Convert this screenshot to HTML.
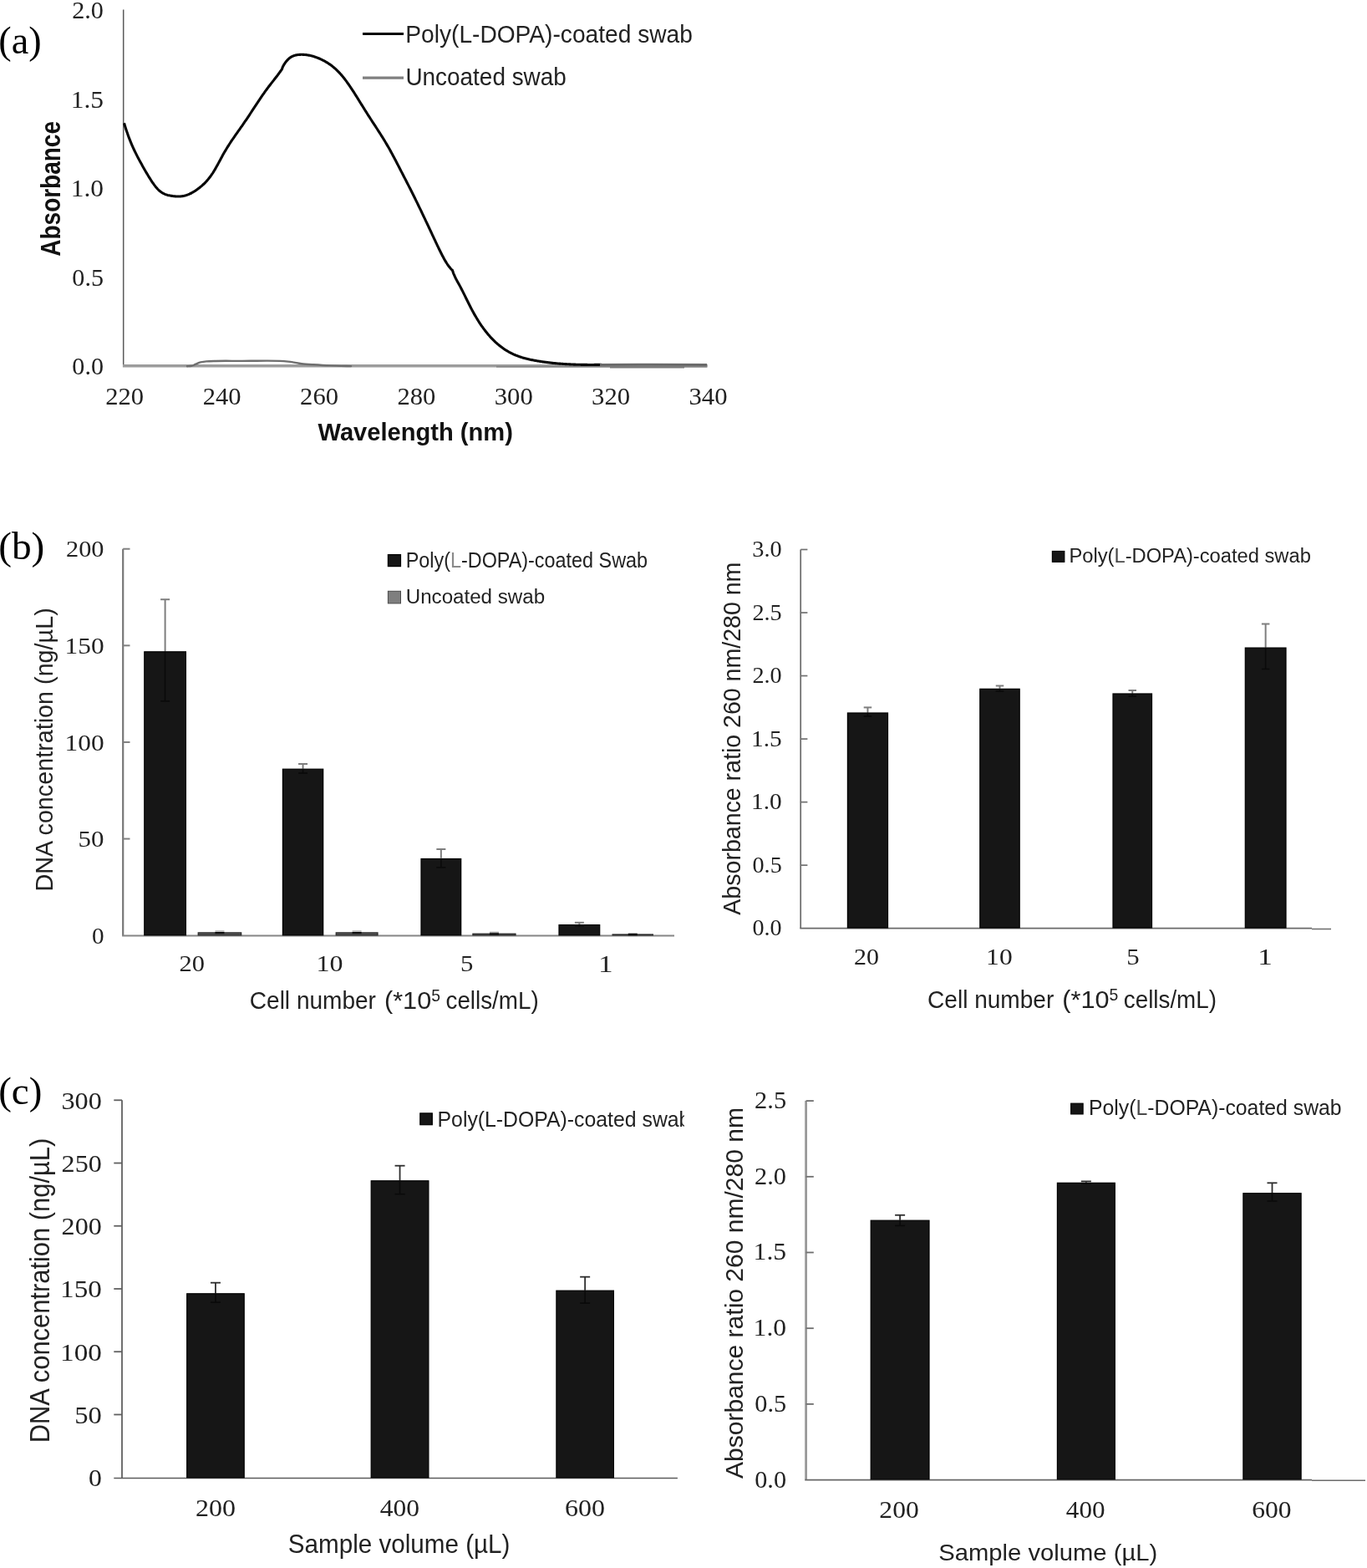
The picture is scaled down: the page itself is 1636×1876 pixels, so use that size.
<!DOCTYPE html>
<html><head><meta charset="utf-8"><title>Figure</title>
<style>html,body{margin:0;padding:0;background:#fff;overflow:hidden;}svg{display:block;}</style>
</head><body>
<svg width="1636" height="1876" viewBox="0 0 1636 1876">
<rect width="1636" height="1876" fill="#fff"/>
<text x="-1.77" y="64.21" font-size="46.06" font-family="'Liberation Serif', serif" fill="#000" textLength="51.43" lengthAdjust="spacingAndGlyphs">(a)</text>
<line x1="147.70" y1="11.50" x2="147.70" y2="436.00" stroke="#5a5a5a" stroke-width="1.5"/>
<line x1="146.90" y1="437.70" x2="846.80" y2="437.70" stroke="#9c9c9c" stroke-width="3.6"/>
<text x="86.22" y="22.05" font-size="29.85" font-family="'Liberation Serif', serif" fill="#222" textLength="37.71" lengthAdjust="spacingAndGlyphs">2.0</text>
<text x="84.75" y="128.65" font-size="30.07" font-family="'Liberation Serif', serif" fill="#222" textLength="39.31" lengthAdjust="spacingAndGlyphs">1.5</text>
<text x="84.75" y="235.25" font-size="29.85" font-family="'Liberation Serif', serif" fill="#222" textLength="39.22" lengthAdjust="spacingAndGlyphs">1.0</text>
<text x="86.37" y="341.85" font-size="29.85" font-family="'Liberation Serif', serif" fill="#222" textLength="37.63" lengthAdjust="spacingAndGlyphs">0.5</text>
<text x="86.37" y="448.45" font-size="29.85" font-family="'Liberation Serif', serif" fill="#222" textLength="37.55" lengthAdjust="spacingAndGlyphs">0.0</text>
<text x="126.30" y="484.00" font-size="30.07" font-family="'Liberation Serif', serif" fill="#222" textLength="45.85" lengthAdjust="spacingAndGlyphs">220</text>
<text x="242.70" y="484.00" font-size="30.07" font-family="'Liberation Serif', serif" fill="#222" textLength="45.85" lengthAdjust="spacingAndGlyphs">240</text>
<text x="359.10" y="484.00" font-size="30.07" font-family="'Liberation Serif', serif" fill="#222" textLength="45.85" lengthAdjust="spacingAndGlyphs">260</text>
<text x="475.50" y="484.00" font-size="30.07" font-family="'Liberation Serif', serif" fill="#222" textLength="45.85" lengthAdjust="spacingAndGlyphs">280</text>
<text x="591.74" y="484.00" font-size="30.07" font-family="'Liberation Serif', serif" fill="#222" textLength="46.01" lengthAdjust="spacingAndGlyphs">300</text>
<text x="708.14" y="484.00" font-size="30.07" font-family="'Liberation Serif', serif" fill="#222" textLength="46.01" lengthAdjust="spacingAndGlyphs">320</text>
<text x="824.54" y="484.00" font-size="30.07" font-family="'Liberation Serif', serif" fill="#222" textLength="46.01" lengthAdjust="spacingAndGlyphs">340</text>
<text x="72.00" y="306.70" font-size="33.10" font-family="'Liberation Sans', sans-serif" font-weight="bold" fill="#111" textLength="161.66" lengthAdjust="spacingAndGlyphs" transform="rotate(-90 72.00 306.70)">Absorbance</text>
<text x="380.50" y="526.80" font-size="29.82" font-family="'Liberation Sans', sans-serif" font-weight="bold" fill="#111" textLength="233.39" lengthAdjust="spacingAndGlyphs">Wavelength (nm)</text>
<path d="M224.00,438.20 C224.83,438.13 227.67,438.03 229.00,437.80 C230.33,437.57 230.83,437.30 232.00,436.80 C233.17,436.30 234.67,435.37 236.00,434.80 C237.33,434.23 238.18,433.80 240.00,433.40 C241.82,433.00 243.90,432.63 246.90,432.40 C249.90,432.17 254.15,432.10 258.00,432.00 C261.85,431.90 265.50,431.82 270.00,431.80 C274.50,431.78 280.00,431.90 285.00,431.90 C290.00,431.90 294.17,431.85 300.00,431.80 C305.83,431.75 314.17,431.58 320.00,431.60 C325.83,431.62 330.83,431.73 335.00,431.90 C339.17,432.07 342.17,432.32 345.00,432.60 C347.83,432.88 349.33,433.17 352.00,433.60 C354.67,434.03 357.17,434.75 361.00,435.20 C364.83,435.65 369.33,435.93 375.00,436.30 C380.67,436.67 387.50,437.10 395.00,437.40 C402.50,437.70 415.83,437.98 420.00,438.10" fill="none" stroke="#6e6e6e" stroke-width="2.4" stroke-linecap="round"/>
<line x1="594.00" y1="438.90" x2="846.00" y2="438.90" stroke="#7a7a7a" stroke-width="1.2"/>
<line x1="730.00" y1="439.40" x2="819.00" y2="439.40" stroke="#777777" stroke-width="2.0"/>
<path d="M148.5,147.21 L149.5,150.51 L150.5,153.67 L151.5,156.71 L152.5,159.62 L153.5,162.41 L154.5,165.10 L155.5,167.68 L156.5,170.17 L157.5,172.56 L158.5,174.87 L159.5,177.11 L160.5,179.27 L161.5,181.37 L162.5,183.41 L163.5,185.40 L164.5,187.34 L165.5,189.25 L166.5,191.12 L167.5,192.97 L168.5,194.80 L169.5,196.62 L170.5,198.42 L171.5,200.20 L172.5,201.97 L173.5,203.72 L174.5,205.44 L175.5,207.15 L176.5,208.83 L177.5,210.48 L178.5,212.10 L179.5,213.69 L180.5,215.26 L181.5,216.78 L182.5,218.27 L183.5,219.70 L184.5,221.09 L185.5,222.41 L186.5,223.67 L187.5,224.86 L188.5,225.97 L189.5,227.01 L190.5,227.95 L191.5,228.81 L192.5,229.58 L193.5,230.27 L194.5,230.89 L195.5,231.45 L196.5,231.94 L197.5,232.37 L198.5,232.76 L199.5,233.09 L200.5,233.38 L201.5,233.64 L202.5,233.86 L203.5,234.06 L204.5,234.24 L205.5,234.40 L206.5,234.54 L207.5,234.67 L208.5,234.79 L209.5,234.88 L210.5,234.96 L211.5,235.01 L212.5,235.04 L213.5,235.04 L214.5,235.02 L215.5,234.97 L216.5,234.89 L217.5,234.77 L218.5,234.62 L219.5,234.44 L220.5,234.22 L221.5,233.96 L222.5,233.68 L223.5,233.35 L224.5,233.00 L225.5,232.62 L226.5,232.20 L227.5,231.75 L228.5,231.26 L229.5,230.75 L230.5,230.21 L231.5,229.63 L232.5,229.03 L233.5,228.40 L234.5,227.73 L235.5,227.04 L236.5,226.32 L237.5,225.57 L238.5,224.80 L239.5,223.99 L240.5,223.16 L241.5,222.31 L242.5,221.42 L243.5,220.49 L244.5,219.53 L245.5,218.53 L246.5,217.49 L247.5,216.40 L248.5,215.26 L249.5,214.07 L250.5,212.82 L251.5,211.52 L252.5,210.16 L253.5,208.73 L254.5,207.24 L255.5,205.67 L256.5,204.04 L257.5,202.35 L258.5,200.60 L259.5,198.80 L260.5,196.98 L261.5,195.13 L262.5,193.27 L263.5,191.40 L264.5,189.54 L265.5,187.69 L266.5,185.87 L267.5,184.08 L268.5,182.33 L269.5,180.62 L270.5,178.94 L271.5,177.30 L272.5,175.68 L273.5,174.09 L274.5,172.53 L275.5,170.99 L276.5,169.48 L277.5,167.98 L278.5,166.50 L279.5,165.04 L280.5,163.59 L281.5,162.15 L282.5,160.72 L283.5,159.30 L284.5,157.88 L285.5,156.47 L286.5,155.05 L287.5,153.64 L288.5,152.22 L289.5,150.79 L290.5,149.36 L291.5,147.92 L292.5,146.46 L293.5,144.99 L294.5,143.52 L295.5,142.03 L296.5,140.53 L297.5,139.03 L298.5,137.52 L299.5,136.00 L300.5,134.48 L301.5,132.96 L302.5,131.43 L303.5,129.91 L304.5,128.38 L305.5,126.86 L306.5,125.34 L307.5,123.83 L308.5,122.32 L309.5,120.82 L310.5,119.33 L311.5,117.84 L312.5,116.37 L313.5,114.91 L314.5,113.46 L315.5,112.03 L316.5,110.61 L317.5,109.21 L318.5,107.82 L319.5,106.46 L320.5,105.11 L321.5,103.79 L322.5,102.48 L323.5,101.19 L324.5,99.91 L325.5,98.64 L326.5,97.37 L327.5,96.10 L328.5,94.82 L329.5,93.54 L330.5,92.25 L331.5,90.94 L332.5,89.62 L333.5,88.27 L334.5,86.90 L335.5,85.50 L336.5,84.06 L337.5,82.59 L338.5,79.68 L339.5,77.92 L340.5,76.33 L341.5,74.88 L342.5,73.56 L343.5,72.38 L344.5,71.32 L345.5,70.38 L346.5,69.54 L347.5,68.81 L348.5,68.16 L349.5,67.61 L350.5,67.13 L351.5,66.73 L352.5,66.39 L353.5,66.11 L354.5,65.89 L355.5,65.71 L356.5,65.58 L357.5,65.47 L358.5,65.40 L359.5,65.35 L360.5,65.32 L361.5,65.32 L362.5,65.34 L363.5,65.38 L364.5,65.45 L365.5,65.54 L366.5,65.65 L367.5,65.78 L368.5,65.93 L369.5,66.11 L370.5,66.30 L371.5,66.52 L372.5,66.76 L373.5,67.02 L374.5,67.29 L375.5,67.59 L376.5,67.91 L377.5,68.24 L378.5,68.60 L379.5,68.97 L380.5,69.36 L381.5,69.78 L382.5,70.20 L383.5,70.65 L384.5,71.11 L385.5,71.59 L386.5,72.09 L387.5,72.61 L388.5,73.15 L389.5,73.71 L390.5,74.30 L391.5,74.90 L392.5,75.53 L393.5,76.19 L394.5,76.87 L395.5,77.57 L396.5,78.31 L397.5,79.07 L398.5,79.87 L399.5,80.69 L400.5,81.54 L401.5,82.43 L402.5,83.35 L403.5,84.30 L404.5,85.29 L405.5,86.32 L406.5,87.38 L407.5,88.48 L408.5,89.61 L409.5,90.79 L410.5,92.00 L411.5,93.25 L412.5,94.53 L413.5,95.85 L414.5,97.20 L415.5,98.57 L416.5,99.98 L417.5,101.41 L418.5,102.86 L419.5,104.34 L420.5,105.84 L421.5,107.35 L422.5,108.89 L423.5,110.44 L424.5,112.00 L425.5,113.58 L426.5,115.17 L427.5,116.76 L428.5,118.37 L429.5,119.98 L430.5,121.59 L431.5,123.21 L432.5,124.83 L433.5,126.44 L434.5,128.06 L435.5,129.67 L436.5,131.27 L437.5,132.87 L438.5,134.45 L439.5,136.03 L440.5,137.59 L441.5,139.15 L442.5,140.70 L443.5,142.24 L444.5,143.78 L445.5,145.31 L446.5,146.85 L447.5,148.38 L448.5,149.91 L449.5,151.44 L450.5,152.98 L451.5,154.52 L452.5,156.07 L453.5,157.62 L454.5,159.18 L455.5,160.76 L456.5,162.34 L457.5,163.94 L458.5,165.55 L459.5,167.17 L460.5,168.81 L461.5,170.47 L462.5,172.15 L463.5,173.85 L464.5,175.57 L465.5,177.32 L466.5,179.09 L467.5,180.88 L468.5,182.70 L469.5,184.54 L470.5,186.40 L471.5,188.28 L472.5,190.17 L473.5,192.08 L474.5,193.99 L475.5,195.92 L476.5,197.85 L477.5,199.79 L478.5,201.73 L479.5,203.68 L480.5,205.62 L481.5,207.56 L482.5,209.49 L483.5,211.43 L484.5,213.37 L485.5,215.31 L486.5,217.25 L487.5,219.20 L488.5,221.15 L489.5,223.11 L490.5,225.07 L491.5,227.04 L492.5,229.02 L493.5,231.02 L494.5,233.02 L495.5,235.03 L496.5,237.05 L497.5,239.08 L498.5,241.13 L499.5,243.17 L500.5,245.23 L501.5,247.30 L502.5,249.37 L503.5,251.45 L504.5,253.53 L505.5,255.62 L506.5,257.72 L507.5,259.82 L508.5,261.93 L509.5,264.04 L510.5,266.16 L511.5,268.28 L512.5,270.40 L513.5,272.52 L514.5,274.65 L515.5,276.78 L516.5,278.91 L517.5,281.04 L518.5,283.17 L519.5,285.30 L520.5,287.43 L521.5,289.57 L522.5,291.69 L523.5,293.81 L524.5,295.91 L525.5,297.98 L526.5,300.03 L527.5,302.05 L528.5,304.02 L529.5,305.95 L530.5,307.83 L531.5,309.65 L532.5,311.41 L533.5,313.10 L534.5,314.72 L535.5,316.26 L536.5,317.71 L537.5,319.07 L538.5,320.33 L539.5,321.49 L540.5,322.54 L541.5,323.47 L542.5,326.56 L543.5,328.97 L544.5,331.17 L545.5,333.19 L546.5,335.10 L547.5,336.93 L548.5,338.73 L549.5,340.54 L550.5,342.38 L551.5,344.27 L552.5,346.19 L553.5,348.15 L554.5,350.14 L555.5,352.15 L556.5,354.17 L557.5,356.20 L558.5,358.24 L559.5,360.27 L560.5,362.29 L561.5,364.29 L562.5,366.27 L563.5,368.22 L564.5,370.13 L565.5,372.00 L566.5,373.83 L567.5,375.62 L568.5,377.37 L569.5,379.08 L570.5,380.76 L571.5,382.39 L572.5,383.99 L573.5,385.56 L574.5,387.08 L575.5,388.57 L576.5,390.03 L577.5,391.45 L578.5,392.83 L579.5,394.18 L580.5,395.50 L581.5,396.79 L582.5,398.04 L583.5,399.26 L584.5,400.45 L585.5,401.61 L586.5,402.74 L587.5,403.83 L588.5,404.90 L589.5,405.94 L590.5,406.95 L591.5,407.93 L592.5,408.89 L593.5,409.81 L594.5,410.71 L595.5,411.59 L596.5,412.44 L597.5,413.26 L598.5,414.06 L599.5,414.83 L600.5,415.58 L601.5,416.31 L602.5,417.01 L603.5,417.69 L604.5,418.35 L605.5,418.98 L606.5,419.60 L607.5,420.20 L608.5,420.77 L609.5,421.33 L610.5,421.86 L611.5,422.38 L612.5,422.88 L613.5,423.36 L614.5,423.83 L615.5,424.27 L616.5,424.71 L617.5,425.12 L618.5,425.52 L619.5,425.91 L620.5,426.28 L621.5,426.63 L622.5,426.98 L623.5,427.31 L624.5,427.63 L625.5,427.93 L626.5,428.22 L627.5,428.51 L628.5,428.78 L629.5,429.04 L630.5,429.30 L631.5,429.54 L632.5,429.77 L633.5,430.00 L634.5,430.22 L635.5,430.43 L636.5,430.63 L637.5,430.83 L638.5,431.02 L639.5,431.21 L640.5,431.39 L641.5,431.57 L642.5,431.74 L643.5,431.91 L644.5,432.08 L645.5,432.24 L646.5,432.40 L647.5,432.55 L648.5,432.70 L649.5,432.85 L650.5,432.99 L651.5,433.13 L652.5,433.27 L653.5,433.40 L654.5,433.53 L655.5,433.66 L656.5,433.78 L657.5,433.90 L658.5,434.02 L659.5,434.13 L660.5,434.24 L661.5,434.35 L662.5,434.45 L663.5,434.55 L664.5,434.65 L665.5,434.74 L666.5,434.83 L667.5,434.92 L668.5,435.00 L669.5,435.09 L670.5,435.16 L671.5,435.24 L672.5,435.31 L673.5,435.39 L674.5,435.45 L675.5,435.52 L676.5,435.58 L677.5,435.64 L678.5,435.70 L679.5,435.76 L680.5,435.81 L681.5,435.86 L682.5,435.91 L683.5,435.95 L684.5,436.00 L685.5,436.04 L686.5,436.08 L687.5,436.11 L688.5,436.15 L689.5,436.18 L690.5,436.21 L691.5,436.24 L692.5,436.26 L693.5,436.29 L694.5,436.31 L695.5,436.33 L696.5,436.35 L697.5,436.36 L698.5,436.38 L699.5,436.39 L700.5,436.40 L701.5,436.41 L702.5,436.42 L703.5,436.43 L704.5,436.43 L705.5,436.43 L706.5,436.44 L707.5,436.44 L708.5,436.44 L709.5,436.43 L710.5,436.43 L711.5,436.42 L712.5,436.42 L713.5,436.41 L714.5,436.40 L715.5,436.39 L716.5,436.38 L717.5,436.37 L718.5,436.35 L719.5,436.34 L720.0,436.33" fill="none" stroke="#050505" stroke-width="3.1" stroke-linejoin="round"/>
<path d="M718,436.4 L780,436.2 L846,436.6" fill="none" stroke="#6a6a6a" stroke-width="3"/>
<line x1="434.00" y1="40.50" x2="483.00" y2="40.50" stroke="#000" stroke-width="3.2"/>
<text x="485.28" y="51.30" font-size="29.09" font-family="'Liberation Sans', sans-serif" fill="#222" textLength="343.57" lengthAdjust="spacingAndGlyphs">Poly(L-DOPA)-coated swab</text>
<line x1="434.00" y1="93.20" x2="483.00" y2="93.20" stroke="#7f7f7f" stroke-width="3.2"/>
<text x="485.44" y="101.60" font-size="29.53" font-family="'Liberation Sans', sans-serif" fill="#222" textLength="192.40" lengthAdjust="spacingAndGlyphs">Uncoated swab</text>
<text x="-1.81" y="668.51" font-size="46.06" font-family="'Liberation Serif', serif" fill="#000" textLength="55.17" lengthAdjust="spacingAndGlyphs">(b)</text>
<line x1="147.20" y1="656.70" x2="147.20" y2="1119.40" stroke="#777777" stroke-width="2.2"/>
<line x1="147.20" y1="656.72" x2="155.50" y2="656.72" stroke="#808080" stroke-width="2.0"/>
<line x1="147.20" y1="772.34" x2="155.50" y2="772.34" stroke="#808080" stroke-width="2.0"/>
<line x1="147.20" y1="887.96" x2="155.50" y2="887.96" stroke="#808080" stroke-width="2.0"/>
<line x1="147.20" y1="1003.58" x2="155.50" y2="1003.58" stroke="#808080" stroke-width="2.0"/>
<line x1="146.10" y1="1119.50" x2="807.00" y2="1119.50" stroke="#858585" stroke-width="2.0"/>
<text x="79.01" y="666.44" font-size="27.85" font-family="'Liberation Serif', serif" fill="#222" textLength="45.53" lengthAdjust="spacingAndGlyphs">200</text>
<text x="77.56" y="782.06" font-size="27.85" font-family="'Liberation Serif', serif" fill="#222" textLength="47.02" lengthAdjust="spacingAndGlyphs">150</text>
<text x="77.56" y="897.68" font-size="27.85" font-family="'Liberation Serif', serif" fill="#222" textLength="47.02" lengthAdjust="spacingAndGlyphs">100</text>
<text x="93.62" y="1013.30" font-size="27.85" font-family="'Liberation Serif', serif" fill="#222" textLength="30.94" lengthAdjust="spacingAndGlyphs">50</text>
<text x="109.91" y="1128.92" font-size="27.85" font-family="'Liberation Serif', serif" fill="#222" textLength="14.59" lengthAdjust="spacingAndGlyphs">0</text>
<rect x="172.80" y="779.80" width="49.60" height="339.00" fill="#161616" stroke="#000000" stroke-width="1.2"/>
<line x1="197.60" y1="717.20" x2="197.60" y2="779.20" stroke="#7e7e7e" stroke-width="2.0"/>
<line x1="192.10" y1="717.20" x2="203.10" y2="717.20" stroke="#7e7e7e" stroke-width="2.0"/>
<line x1="197.60" y1="779.20" x2="197.60" y2="838.80" stroke="#0a0a0a" stroke-width="1.6"/>
<line x1="192.10" y1="838.80" x2="203.10" y2="838.80" stroke="#0a0a0a" stroke-width="1.6"/>
<rect x="338.40" y="920.20" width="48.30" height="198.60" fill="#161616" stroke="#000000" stroke-width="1.2"/>
<line x1="362.55" y1="914.00" x2="362.55" y2="919.60" stroke="#7e7e7e" stroke-width="2.0"/>
<line x1="357.05" y1="914.00" x2="368.05" y2="914.00" stroke="#7e7e7e" stroke-width="2.0"/>
<line x1="362.55" y1="919.60" x2="362.55" y2="925.00" stroke="#0a0a0a" stroke-width="1.6"/>
<line x1="357.05" y1="925.00" x2="368.05" y2="925.00" stroke="#0a0a0a" stroke-width="1.6"/>
<rect x="504.00" y="1027.50" width="47.70" height="91.30" fill="#161616" stroke="#000000" stroke-width="1.2"/>
<line x1="527.85" y1="1016.00" x2="527.85" y2="1026.90" stroke="#7e7e7e" stroke-width="2.0"/>
<line x1="522.35" y1="1016.00" x2="533.35" y2="1016.00" stroke="#7e7e7e" stroke-width="2.0"/>
<line x1="527.85" y1="1026.90" x2="527.85" y2="1037.80" stroke="#0a0a0a" stroke-width="1.6"/>
<line x1="522.35" y1="1037.80" x2="533.35" y2="1037.80" stroke="#0a0a0a" stroke-width="1.6"/>
<rect x="669.00" y="1106.60" width="48.70" height="12.20" fill="#161616" stroke="#000000" stroke-width="1.2"/>
<line x1="693.35" y1="1103.80" x2="693.35" y2="1106.00" stroke="#7e7e7e" stroke-width="2.0"/>
<line x1="687.85" y1="1103.80" x2="698.85" y2="1103.80" stroke="#7e7e7e" stroke-width="2.0"/>
<line x1="693.35" y1="1106.00" x2="693.35" y2="1108.00" stroke="#0a0a0a" stroke-width="1.6"/>
<line x1="687.85" y1="1108.00" x2="698.85" y2="1108.00" stroke="#0a0a0a" stroke-width="1.6"/>
<rect x="237.20" y="1115.90" width="51.50" height="2.90" fill="#555555" stroke="#2a2a2a" stroke-width="1.2"/>
<line x1="257.45" y1="1114.00" x2="268.45" y2="1114.00" stroke="#9a9a9a" stroke-width="1.2"/>
<rect x="257.45" y="1115.00" width="11.00" height="2.20" fill="#0c0c0c"/>
<rect x="402.20" y="1115.90" width="49.80" height="2.90" fill="#555555" stroke="#2a2a2a" stroke-width="1.2"/>
<line x1="421.60" y1="1114.00" x2="432.60" y2="1114.00" stroke="#9a9a9a" stroke-width="1.2"/>
<rect x="421.60" y="1115.00" width="11.00" height="2.20" fill="#0c0c0c"/>
<rect x="565.90" y="1117.20" width="51.10" height="1.60" fill="#555555" stroke="#2a2a2a" stroke-width="1.2"/>
<line x1="585.95" y1="1115.30" x2="596.95" y2="1115.30" stroke="#9a9a9a" stroke-width="1.2"/>
<rect x="585.95" y="1116.30" width="11.00" height="2.20" fill="#0c0c0c"/>
<rect x="733.10" y="1118.00" width="48.30" height="0.80" fill="#555555" stroke="#2a2a2a" stroke-width="1.2"/>
<line x1="751.75" y1="1116.80" x2="762.75" y2="1116.80" stroke="#9a9a9a" stroke-width="1.2"/>
<rect x="751.75" y="1117.10" width="11.00" height="2.20" fill="#0c0c0c"/>
<text x="214.51" y="1162.32" font-size="27.85" font-family="'Liberation Serif', serif" fill="#222" textLength="30.43" lengthAdjust="spacingAndGlyphs">20</text>
<text x="378.50" y="1162.32" font-size="27.85" font-family="'Liberation Serif', serif" fill="#222" textLength="32.00" lengthAdjust="spacingAndGlyphs">10</text>
<text x="551.03" y="1162.32" font-size="28.27" font-family="'Liberation Serif', serif" fill="#222" textLength="15.40" lengthAdjust="spacingAndGlyphs">5</text>
<text x="716.02" y="1162.60" font-size="28.48" font-family="'Liberation Serif', serif" fill="#222" textLength="17.59" lengthAdjust="spacingAndGlyphs">1</text>
<text x="62.60" y="1066.57" font-size="29.38" font-family="'Liberation Sans', sans-serif" fill="#222" textLength="339.28" lengthAdjust="spacingAndGlyphs" transform="rotate(-90 62.60 1066.57)">DNA concentration (ng/µL)</text>
<text x="298.80" y="1207.30" font-size="29.10" font-family="'Liberation Sans', sans-serif" fill="#222" textLength="151.16" lengthAdjust="spacingAndGlyphs">Cell number</text>
<text x="459.98" y="1207.30" font-size="29.53" font-family="'Liberation Sans', sans-serif" fill="#222" textLength="56.23" lengthAdjust="spacingAndGlyphs">(*10</text>
<text x="516.13" y="1198.11" font-size="19.35" font-family="'Liberation Sans', sans-serif" fill="#222" textLength="10.77" lengthAdjust="spacingAndGlyphs">5</text>
<text x="533.52" y="1207.30" font-size="29.82" font-family="'Liberation Sans', sans-serif" fill="#222" textLength="111.16" lengthAdjust="spacingAndGlyphs">cells/mL)</text>
<rect x="464.40" y="663.60" width="15.10" height="14.00" fill="#161616" stroke="#000000" stroke-width="1.2"/>
<text x="485.67" y="678.50" font-size="24.87" font-family="'Liberation Sans', sans-serif" fill="#222" textLength="289.37" lengthAdjust="spacingAndGlyphs">Poly(<tspan fill="#8a8a8a">L</tspan>-DOPA)-coated Swab</text>
<rect x="464.40" y="707.30" width="15.10" height="14.60" fill="#7f7f7f" stroke="#4a4a4a" stroke-width="1"/>
<text x="485.73" y="722.00" font-size="24.29" font-family="'Liberation Sans', sans-serif" fill="#222" textLength="166.35" lengthAdjust="spacingAndGlyphs">Uncoated swab</text>
<line x1="958.20" y1="657.50" x2="958.20" y2="1110.70" stroke="#6a6a6a" stroke-width="1.7"/>
<line x1="958.20" y1="1035.16" x2="966.40" y2="1035.16" stroke="#707070" stroke-width="1.7"/>
<line x1="958.20" y1="959.63" x2="966.40" y2="959.63" stroke="#707070" stroke-width="1.7"/>
<line x1="958.20" y1="884.10" x2="966.40" y2="884.10" stroke="#707070" stroke-width="1.7"/>
<line x1="958.20" y1="808.56" x2="966.40" y2="808.56" stroke="#707070" stroke-width="1.7"/>
<line x1="958.20" y1="733.03" x2="966.40" y2="733.03" stroke="#707070" stroke-width="1.7"/>
<line x1="958.20" y1="657.49" x2="966.40" y2="657.49" stroke="#707070" stroke-width="1.7"/>
<line x1="957.35" y1="1110.70" x2="1570.00" y2="1110.70" stroke="#6a6a6a" stroke-width="1.7"/>
<line x1="1570.00" y1="1111.50" x2="1593.00" y2="1111.50" stroke="#6a6a6a" stroke-width="1.5"/>
<text x="900.55" y="1119.28" font-size="27.94" font-family="'Liberation Serif', serif" fill="#222" textLength="35.11" lengthAdjust="spacingAndGlyphs">0.0</text>
<text x="900.54" y="1043.75" font-size="27.94" font-family="'Liberation Serif', serif" fill="#222" textLength="35.18" lengthAdjust="spacingAndGlyphs">0.5</text>
<text x="899.03" y="968.21" font-size="27.94" font-family="'Liberation Serif', serif" fill="#222" textLength="36.67" lengthAdjust="spacingAndGlyphs">1.0</text>
<text x="899.03" y="892.67" font-size="28.15" font-family="'Liberation Serif', serif" fill="#222" textLength="36.75" lengthAdjust="spacingAndGlyphs">1.5</text>
<text x="900.40" y="817.14" font-size="27.94" font-family="'Liberation Serif', serif" fill="#222" textLength="35.26" lengthAdjust="spacingAndGlyphs">2.0</text>
<text x="900.40" y="741.60" font-size="28.04" font-family="'Liberation Serif', serif" fill="#222" textLength="35.33" lengthAdjust="spacingAndGlyphs">2.5</text>
<text x="900.25" y="666.07" font-size="27.94" font-family="'Liberation Serif', serif" fill="#222" textLength="35.41" lengthAdjust="spacingAndGlyphs">3.0</text>
<rect x="1014.40" y="853.00" width="48.10" height="257.00" fill="#161616" stroke="#000000" stroke-width="1.2"/>
<line x1="1038.45" y1="846.40" x2="1038.45" y2="852.40" stroke="#7e7e7e" stroke-width="2.0"/>
<line x1="1033.70" y1="846.40" x2="1043.20" y2="846.40" stroke="#7e7e7e" stroke-width="2.0"/>
<line x1="1038.45" y1="852.40" x2="1038.45" y2="857.00" stroke="#0a0a0a" stroke-width="1.6"/>
<line x1="1033.70" y1="857.00" x2="1043.20" y2="857.00" stroke="#0a0a0a" stroke-width="1.6"/>
<rect x="1172.80" y="824.30" width="47.40" height="285.70" fill="#161616" stroke="#000000" stroke-width="1.2"/>
<line x1="1196.50" y1="820.50" x2="1196.50" y2="823.70" stroke="#7e7e7e" stroke-width="2.0"/>
<line x1="1191.75" y1="820.50" x2="1201.25" y2="820.50" stroke="#7e7e7e" stroke-width="2.0"/>
<line x1="1196.50" y1="823.70" x2="1196.50" y2="827.00" stroke="#0a0a0a" stroke-width="1.6"/>
<line x1="1191.75" y1="827.00" x2="1201.25" y2="827.00" stroke="#0a0a0a" stroke-width="1.6"/>
<rect x="1332.00" y="830.00" width="46.50" height="280.00" fill="#161616" stroke="#000000" stroke-width="1.2"/>
<line x1="1355.25" y1="826.00" x2="1355.25" y2="829.40" stroke="#7e7e7e" stroke-width="2.0"/>
<line x1="1350.50" y1="826.00" x2="1360.00" y2="826.00" stroke="#7e7e7e" stroke-width="2.0"/>
<line x1="1355.25" y1="829.40" x2="1355.25" y2="833.00" stroke="#0a0a0a" stroke-width="1.6"/>
<line x1="1350.50" y1="833.00" x2="1360.00" y2="833.00" stroke="#0a0a0a" stroke-width="1.6"/>
<rect x="1490.30" y="775.10" width="48.70" height="334.90" fill="#161616" stroke="#000000" stroke-width="1.2"/>
<line x1="1514.65" y1="746.50" x2="1514.65" y2="774.50" stroke="#7e7e7e" stroke-width="2.0"/>
<line x1="1509.90" y1="746.50" x2="1519.40" y2="746.50" stroke="#7e7e7e" stroke-width="2.0"/>
<line x1="1514.65" y1="774.50" x2="1514.65" y2="800.50" stroke="#0a0a0a" stroke-width="1.6"/>
<line x1="1509.90" y1="800.50" x2="1519.40" y2="800.50" stroke="#0a0a0a" stroke-width="1.6"/>
<text x="1022.02" y="1153.52" font-size="27.56" font-family="'Liberation Serif', serif" fill="#222" textLength="30.00" lengthAdjust="spacingAndGlyphs">20</text>
<text x="1180.14" y="1153.52" font-size="27.56" font-family="'Liberation Serif', serif" fill="#222" textLength="31.54" lengthAdjust="spacingAndGlyphs">10</text>
<text x="1348.23" y="1153.52" font-size="27.97" font-family="'Liberation Serif', serif" fill="#222" textLength="15.40" lengthAdjust="spacingAndGlyphs">5</text>
<text x="1505.22" y="1153.80" font-size="28.18" font-family="'Liberation Serif', serif" fill="#222" textLength="17.59" lengthAdjust="spacingAndGlyphs">1</text>
<text x="885.80" y="1094.67" font-size="29.00" font-family="'Liberation Sans', sans-serif" fill="#222" textLength="422.01" lengthAdjust="spacingAndGlyphs" transform="rotate(-90 885.80 1094.67)">Absorbance ratio 260 nm/280 nm</text>
<text x="1110.10" y="1205.80" font-size="29.10" font-family="'Liberation Sans', sans-serif" fill="#222" textLength="151.16" lengthAdjust="spacingAndGlyphs">Cell number</text>
<text x="1271.28" y="1205.80" font-size="29.53" font-family="'Liberation Sans', sans-serif" fill="#222" textLength="56.23" lengthAdjust="spacingAndGlyphs">(*10</text>
<text x="1327.43" y="1196.61" font-size="19.35" font-family="'Liberation Sans', sans-serif" fill="#222" textLength="10.77" lengthAdjust="spacingAndGlyphs">5</text>
<text x="1344.82" y="1205.80" font-size="29.82" font-family="'Liberation Sans', sans-serif" fill="#222" textLength="111.16" lengthAdjust="spacingAndGlyphs">cells/mL)</text>
<rect x="1259.40" y="659.50" width="14.40" height="12.80" fill="#161616" stroke="#000000" stroke-width="1.2"/>
<text x="1279.44" y="673.40" font-size="24.58" font-family="'Liberation Sans', sans-serif" fill="#222" textLength="289.42" lengthAdjust="spacingAndGlyphs">Poly(<tspan fill="#4a4a4a">L</tspan>-DOPA)-coated swab</text>
<text x="-1.80" y="1320.71" font-size="45.62" font-family="'Liberation Serif', serif" fill="#000" textLength="52.19" lengthAdjust="spacingAndGlyphs">(c)</text>
<line x1="146.00" y1="1316.30" x2="146.00" y2="1768.50" stroke="#606060" stroke-width="1.8"/>
<line x1="136.30" y1="1692.47" x2="146.00" y2="1692.47" stroke="#606060" stroke-width="1.8"/>
<line x1="136.30" y1="1617.23" x2="146.00" y2="1617.23" stroke="#606060" stroke-width="1.8"/>
<line x1="136.30" y1="1542.00" x2="146.00" y2="1542.00" stroke="#606060" stroke-width="1.8"/>
<line x1="136.30" y1="1466.76" x2="146.00" y2="1466.76" stroke="#606060" stroke-width="1.8"/>
<line x1="136.30" y1="1391.53" x2="146.00" y2="1391.53" stroke="#606060" stroke-width="1.8"/>
<line x1="136.30" y1="1316.29" x2="146.00" y2="1316.29" stroke="#606060" stroke-width="1.8"/>
<line x1="136.30" y1="1768.50" x2="810.90" y2="1768.50" stroke="#5c5c5c" stroke-width="1.7"/>
<text x="73.47" y="1326.60" font-size="29.33" font-family="'Liberation Serif', serif" fill="#222" textLength="48.34" lengthAdjust="spacingAndGlyphs">300</text>
<text x="73.64" y="1401.83" font-size="29.33" font-family="'Liberation Serif', serif" fill="#222" textLength="48.17" lengthAdjust="spacingAndGlyphs">250</text>
<text x="73.64" y="1477.07" font-size="29.33" font-family="'Liberation Serif', serif" fill="#222" textLength="48.17" lengthAdjust="spacingAndGlyphs">200</text>
<text x="72.10" y="1552.30" font-size="29.33" font-family="'Liberation Serif', serif" fill="#222" textLength="49.75" lengthAdjust="spacingAndGlyphs">150</text>
<text x="72.10" y="1627.54" font-size="29.33" font-family="'Liberation Serif', serif" fill="#222" textLength="49.75" lengthAdjust="spacingAndGlyphs">100</text>
<text x="89.23" y="1702.77" font-size="29.33" font-family="'Liberation Serif', serif" fill="#222" textLength="32.60" lengthAdjust="spacingAndGlyphs">50</text>
<text x="105.91" y="1778.01" font-size="29.33" font-family="'Liberation Serif', serif" fill="#222" textLength="15.88" lengthAdjust="spacingAndGlyphs">0</text>
<rect x="223.70" y="1547.80" width="68.50" height="220.00" fill="#161616" stroke="#000000" stroke-width="1.2"/>
<line x1="257.95" y1="1534.70" x2="257.95" y2="1547.20" stroke="#2e2e2e" stroke-width="1.8"/>
<line x1="251.95" y1="1534.70" x2="263.95" y2="1534.70" stroke="#2e2e2e" stroke-width="1.8"/>
<line x1="257.95" y1="1547.20" x2="257.95" y2="1558.20" stroke="#0a0a0a" stroke-width="1.6"/>
<line x1="251.95" y1="1558.20" x2="263.95" y2="1558.20" stroke="#0a0a0a" stroke-width="1.6"/>
<rect x="444.20" y="1412.80" width="68.70" height="355.00" fill="#161616" stroke="#000000" stroke-width="1.2"/>
<line x1="478.55" y1="1394.70" x2="478.55" y2="1412.20" stroke="#2e2e2e" stroke-width="1.8"/>
<line x1="472.55" y1="1394.70" x2="484.55" y2="1394.70" stroke="#2e2e2e" stroke-width="1.8"/>
<line x1="478.55" y1="1412.20" x2="478.55" y2="1428.70" stroke="#0a0a0a" stroke-width="1.6"/>
<line x1="472.55" y1="1428.70" x2="484.55" y2="1428.70" stroke="#0a0a0a" stroke-width="1.6"/>
<rect x="665.90" y="1544.20" width="68.50" height="223.60" fill="#161616" stroke="#000000" stroke-width="1.2"/>
<line x1="700.15" y1="1527.70" x2="700.15" y2="1543.60" stroke="#2e2e2e" stroke-width="1.8"/>
<line x1="694.15" y1="1527.70" x2="706.15" y2="1527.70" stroke="#2e2e2e" stroke-width="1.8"/>
<line x1="700.15" y1="1543.60" x2="700.15" y2="1559.10" stroke="#0a0a0a" stroke-width="1.6"/>
<line x1="694.15" y1="1559.10" x2="706.15" y2="1559.10" stroke="#0a0a0a" stroke-width="1.6"/>
<text x="234.04" y="1813.50" font-size="29.78" font-family="'Liberation Serif', serif" fill="#222" textLength="47.96" lengthAdjust="spacingAndGlyphs">200</text>
<text x="454.87" y="1813.50" font-size="29.78" font-family="'Liberation Serif', serif" fill="#222" textLength="47.21" lengthAdjust="spacingAndGlyphs">400</text>
<text x="675.94" y="1813.50" font-size="29.78" font-family="'Liberation Serif', serif" fill="#222" textLength="47.96" lengthAdjust="spacingAndGlyphs">600</text>
<text x="59.40" y="1726.35" font-size="32.87" font-family="'Liberation Sans', sans-serif" fill="#222" textLength="364.69" lengthAdjust="spacingAndGlyphs" transform="rotate(-90 59.40 1726.35)">DNA concentration (ng/µL)</text>
<text x="344.87" y="1857.80" font-size="30.82" font-family="'Liberation Sans', sans-serif" fill="#222" textLength="265.54" lengthAdjust="spacingAndGlyphs">Sample volume (µL)</text>
<clipPath id="clipc"><rect x="490" y="1300" width="328.8" height="70"/></clipPath>
<rect x="502.80" y="1331.90" width="14.50" height="13.80" fill="#161616" stroke="#000000" stroke-width="1.2"/>
<g clip-path="url(#clipc)">
<text x="523.55" y="1347.90" font-size="26.47" font-family="'Liberation Sans', sans-serif" fill="#222" textLength="302.86" lengthAdjust="spacingAndGlyphs">Poly(L-DOPA)-coated swab</text>
</g>
<line x1="964.60" y1="1317.10" x2="964.60" y2="1770.00" stroke="#999999" stroke-width="2.8"/>
<line x1="964.60" y1="1679.90" x2="973.80" y2="1679.90" stroke="#6e6e6e" stroke-width="1.8"/>
<line x1="964.60" y1="1589.20" x2="973.80" y2="1589.20" stroke="#6e6e6e" stroke-width="1.8"/>
<line x1="964.60" y1="1498.50" x2="973.80" y2="1498.50" stroke="#6e6e6e" stroke-width="1.8"/>
<line x1="964.60" y1="1407.80" x2="973.80" y2="1407.80" stroke="#6e6e6e" stroke-width="1.8"/>
<line x1="964.60" y1="1317.10" x2="973.80" y2="1317.10" stroke="#6e6e6e" stroke-width="1.8"/>
<line x1="963.20" y1="1770.60" x2="1570.00" y2="1770.60" stroke="#666666" stroke-width="1.7"/>
<line x1="1570.00" y1="1771.30" x2="1634.00" y2="1771.30" stroke="#6a6a6a" stroke-width="1.5"/>
<text x="903.27" y="1779.56" font-size="29.12" font-family="'Liberation Serif', serif" fill="#222" textLength="37.77" lengthAdjust="spacingAndGlyphs">0.0</text>
<text x="903.26" y="1688.86" font-size="29.12" font-family="'Liberation Serif', serif" fill="#222" textLength="37.85" lengthAdjust="spacingAndGlyphs">0.5</text>
<text x="901.64" y="1598.16" font-size="29.12" font-family="'Liberation Serif', serif" fill="#222" textLength="39.44" lengthAdjust="spacingAndGlyphs">1.0</text>
<text x="901.63" y="1507.46" font-size="29.33" font-family="'Liberation Serif', serif" fill="#222" textLength="39.53" lengthAdjust="spacingAndGlyphs">1.5</text>
<text x="903.11" y="1416.76" font-size="29.12" font-family="'Liberation Serif', serif" fill="#222" textLength="37.93" lengthAdjust="spacingAndGlyphs">2.0</text>
<text x="903.11" y="1326.06" font-size="29.23" font-family="'Liberation Serif', serif" fill="#222" textLength="38.01" lengthAdjust="spacingAndGlyphs">2.5</text>
<rect x="1042.20" y="1460.20" width="69.80" height="309.60" fill="#161616" stroke="#000000" stroke-width="1.2"/>
<line x1="1077.10" y1="1453.80" x2="1077.10" y2="1459.60" stroke="#2e2e2e" stroke-width="1.8"/>
<line x1="1071.10" y1="1453.80" x2="1083.10" y2="1453.80" stroke="#2e2e2e" stroke-width="1.8"/>
<line x1="1077.10" y1="1459.60" x2="1077.10" y2="1466.40" stroke="#0a0a0a" stroke-width="1.6"/>
<line x1="1071.10" y1="1466.40" x2="1083.10" y2="1466.40" stroke="#0a0a0a" stroke-width="1.6"/>
<rect x="1265.40" y="1415.30" width="68.90" height="354.50" fill="#161616" stroke="#000000" stroke-width="1.2"/>
<line x1="1299.85" y1="1413.40" x2="1299.85" y2="1414.70" stroke="#2e2e2e" stroke-width="1.8"/>
<line x1="1293.85" y1="1413.40" x2="1305.85" y2="1413.40" stroke="#2e2e2e" stroke-width="1.8"/>
<line x1="1299.85" y1="1414.70" x2="1299.85" y2="1416.00" stroke="#0a0a0a" stroke-width="1.6"/>
<line x1="1293.85" y1="1416.00" x2="1305.85" y2="1416.00" stroke="#0a0a0a" stroke-width="1.6"/>
<rect x="1487.90" y="1427.70" width="69.20" height="342.10" fill="#161616" stroke="#000000" stroke-width="1.2"/>
<line x1="1522.50" y1="1415.30" x2="1522.50" y2="1427.10" stroke="#2e2e2e" stroke-width="1.8"/>
<line x1="1516.50" y1="1415.30" x2="1528.50" y2="1415.30" stroke="#2e2e2e" stroke-width="1.8"/>
<line x1="1522.50" y1="1427.10" x2="1522.50" y2="1437.00" stroke="#0a0a0a" stroke-width="1.6"/>
<line x1="1516.50" y1="1437.00" x2="1528.50" y2="1437.00" stroke="#0a0a0a" stroke-width="1.6"/>
<text x="1052.36" y="1815.71" font-size="29.04" font-family="'Liberation Serif', serif" fill="#222" textLength="47.32" lengthAdjust="spacingAndGlyphs">200</text>
<text x="1275.88" y="1815.71" font-size="29.04" font-family="'Liberation Serif', serif" fill="#222" textLength="46.59" lengthAdjust="spacingAndGlyphs">400</text>
<text x="1498.26" y="1815.71" font-size="29.04" font-family="'Liberation Serif', serif" fill="#222" textLength="47.32" lengthAdjust="spacingAndGlyphs">600</text>
<text x="888.70" y="1768.98" font-size="30.33" font-family="'Liberation Sans', sans-serif" fill="#222" textLength="444.01" lengthAdjust="spacingAndGlyphs" transform="rotate(-90 888.70 1768.98)">Absorbance ratio 260 nm/280 nm</text>
<text x="1123.29" y="1866.80" font-size="28.10" font-family="'Liberation Sans', sans-serif" fill="#222" textLength="261.89" lengthAdjust="spacingAndGlyphs">Sample volume (µL)</text>
<rect x="1281.70" y="1320.20" width="14.40" height="12.70" fill="#161616" stroke="#000000" stroke-width="1.2"/>
<text x="1302.95" y="1334.40" font-size="26.18" font-family="'Liberation Sans', sans-serif" fill="#222" textLength="302.66" lengthAdjust="spacingAndGlyphs">Poly(<tspan fill="#4a4a4a">L</tspan>-DOPA)-coated swab</text>
</svg>
</body></html>
